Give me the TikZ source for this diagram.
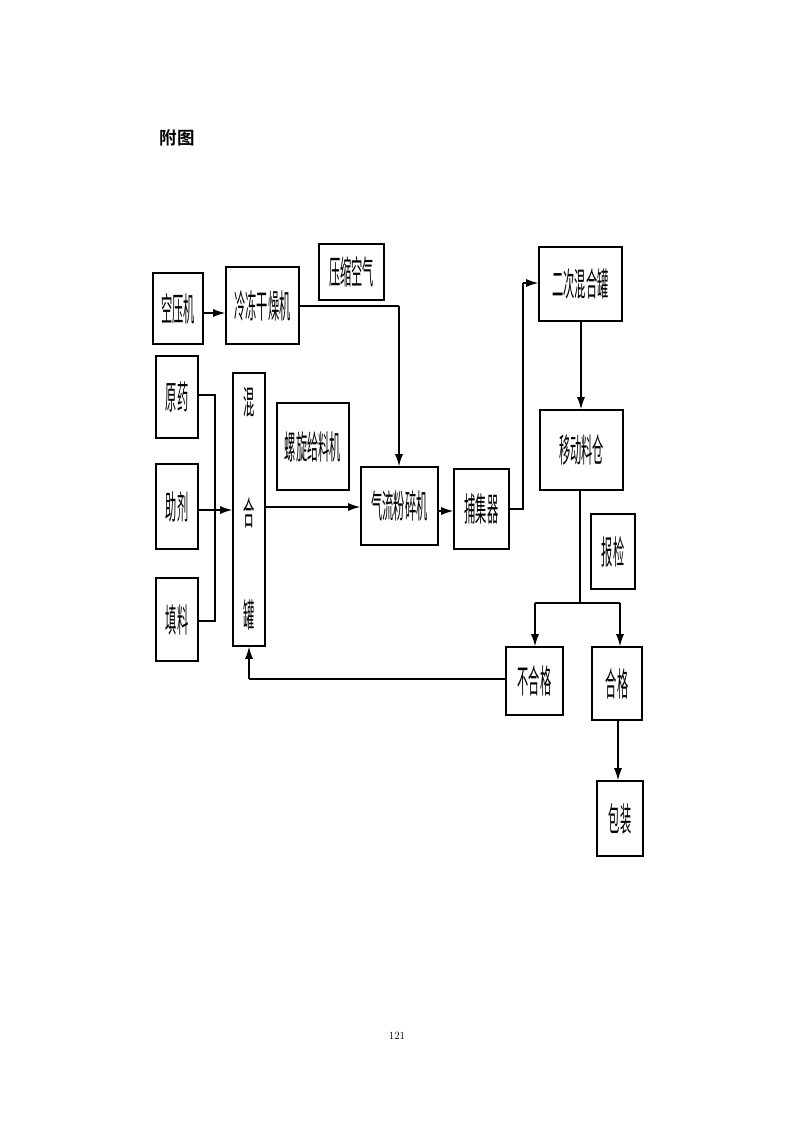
\documentclass[tikz,border=0pt]{standalone}
\usepackage{fontspec}
\newfontfamily\cjk[FakeStretch=0.34]{Noto Sans CJK SC}
\newfontfamily\cjkbold{Noto Sans CJK SC Bold}
\usetikzlibrary{arrows.meta}
\begin{document}
\begin{tikzpicture}[x=1pt,y=-1pt,
  box/.style={draw,line width=1.6pt,inner sep=0pt,font=\cjk\fontsize{33}{33}\selectfont},
  lbl/.style={inner sep=0pt,font=\cjk\fontsize{33}{33}\selectfont},
  conn/.style={line width=1.2pt},
  arr/.style={line width=1.2pt,-{Latex[length=12pt,width=8pt]}}]
\useasboundingbox (0,0) rectangle (793,1122);
\node[inner sep=0pt,font=\cjkbold\fontsize{17.5}{17.5}\selectfont] (title) at (177,138) {附图};
\node[inner sep=0pt,font=\fontsize{11}{11}\selectfont] (page) at (397,1036) {121};
% boxes
\node[box,minimum width=50pt,minimum height=71pt] (kyj) at (178,308.5) {空压机};
\node[box,minimum width=73pt,minimum height=77pt] (ldgz) at (262.5,305.5) {冷冻干燥机};
\node[box,minimum width=65pt,minimum height=56pt] (yskq) at (351.5,272) {压缩空气};
\node[box,minimum width=42pt,minimum height=82pt] (yy) at (177,397) {原药};
\node[box,minimum width=42pt,minimum height=85pt] (zj) at (177,506.5) {助剂};
\node[box,minimum width=42pt,minimum height=83pt] (tl) at (177,619.5) {填料};
\node[box,minimum width=32pt,minimum height=273pt] (hhg) at (249,509.5) {};
\node[lbl] (hhg1) at (249,402) {混};
\node[lbl] (hhg2) at (249,513) {合};
\node[lbl] (hhg3) at (249,615) {罐};
\node[box,minimum width=72pt,minimum height=87pt] (lxgl) at (313,446.5) {螺旋给料机};
\node[box,minimum width=77pt,minimum height=78pt] (qlfs) at (399.5,506) {气流粉碎机};
\node[box,minimum width=55pt,minimum height=80pt] (bjq) at (481.5,509) {捕集器};
\node[box,minimum width=83pt,minimum height=74pt] (echh) at (580.5,284) {二次混合罐};
\node[box,minimum width=83pt,minimum height=80pt] (ydlc) at (581.5,450) {移动料仓};
\node[box,minimum width=44pt,minimum height=75pt] (bj) at (613,551.5) {报检};
\node[box,minimum width=57pt,minimum height=68pt] (bhg) at (534.5,681) {不合格};
\node[box,minimum width=50pt,minimum height=73pt] (hg) at (617,683.5) {合格};
\node[box,minimum width=46pt,minimum height=75pt] (bz) at (620,818.5) {包装};
% coordinates
\coordinate (c1) at (399,306);
\coordinate (c2) at (215,395);
\coordinate (c3) at (215,621);
\coordinate (c4) at (523,509);
\coordinate (c5) at (523,283);
\coordinate (c6) at (580,603);
\coordinate (c7) at (535,603);
\coordinate (c8) at (620,603);
\coordinate (c9) at (249,679);
% connectors
\draw[arr] (kyj.east |- 0,313) -- (ldgz.west |- 0,313);
\draw[conn] (ldgz.east |- c1) -- (c1);
\draw[arr] (c1) -- (c1 |- qlfs.north);
\draw[conn] (yy.east |- c2) -- (c2) -- (c3) -- (tl.east |- c3);
\draw[arr] (zj.east |- 0,510) -- (hhg.west |- 0,510);
\draw[arr] (hhg.east |- 0,507) -- (qlfs.west |- 0,507);
\draw[arr] (qlfs.east |- 0,511) -- (bjq.west |- 0,511);
\draw[conn] (bjq.east |- c4) -- (c4) -- (c5);
\draw[arr] (c5) -- (echh.west |- c5);
\draw[arr] (echh.south -| 581,0) -- (ydlc.north -| 581,0);
\draw[conn] (ydlc.south -| c6) -- (c6);
\draw[conn] (c7) -- (c8);
\draw[arr] (c7) -- (bhg.north -| c7);
\draw[arr] (c8) -- (hg.north -| c8);
\draw[conn] (bhg.west |- c9) -- (c9);
\draw[arr] (c9) -- (hhg.south);
\draw[arr] (hg.south -| 618,0) -- (bz.north -| 618,0);
\end{tikzpicture}
\end{document}
